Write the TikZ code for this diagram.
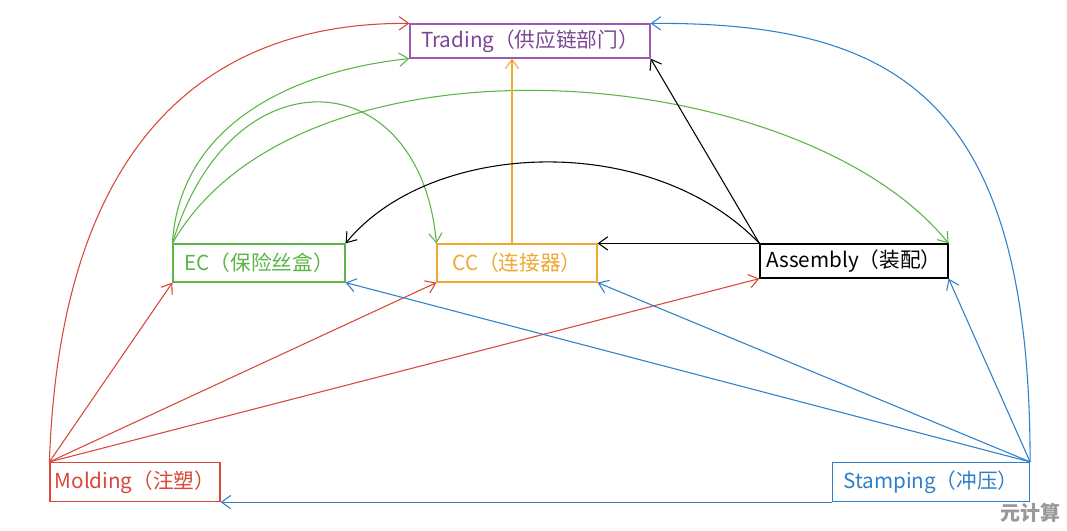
\documentclass[tikz,border=0pt]{standalone}
\usepackage{fontspec}
\setmainfont{Noto Sans CJK SC}
\usetikzlibrary{arrows.meta}
\definecolor{cr}{HTML}{D9473B}
\definecolor{cb}{HTML}{2F7FC9}
\definecolor{cg}{HTML}{5BB547}
\definecolor{co}{HTML}{F0A830}
\definecolor{cp}{HTML}{9B59B6}
\begin{document}
\begin{tikzpicture}[x=0.75pt,y=-0.75pt,
  box/.style={draw,line width=0.9pt,inner sep=0pt,font=\fontsize{15.5}{17}\selectfont},
  con/.style={line width=0.8pt,-{Straight Barb[length=7pt,width=10pt]}}]
\fill[white] (0,0) rectangle (1067,531);
\useasboundingbox (0,0) rectangle (1067,531);
\node[box,cp,text=cp!80!black,minimum width=240*0.75pt,minimum height=34*0.75pt] (tr) at (530,41) {Trading（供应链部门）};
\node[box,cg,text=cg,minimum width=172*0.75pt,minimum height=38*0.75pt] (ec) at (259,263) {EC（保险丝盒）};
\node[box,co,text=co,minimum width=160*0.75pt,minimum height=38*0.75pt] (cc) at (517,263) {CC（连接器）};
\node[box,black,minimum width=188*0.75pt,minimum height=34*0.75pt] (as) at (854,261) {Assembly（装配）};
\node[box,cr,text=cr,minimum width=170*0.75pt,minimum height=39*0.75pt] (mo) at (135,482) {Molding（注塑）};
\node[box,cb,text=cb,minimum width=197*0.75pt,minimum height=39*0.75pt] (st) at (931,482) {Stamping（冲压）};
\node[text=gray!80,font=\bfseries\fontsize{15}{16}\selectfont] (wm) at (1030,513) {元计算};
\coordinate (ccx) at (512,244);
% red
\draw[con,cr] (mo.north west) .. controls (60,150) and (200,22) .. (tr.north west);
\draw[con,cr] (mo.north west) -- (ec.south west);
\draw[con,cr] (mo.north west) -- (cc.south west);
\draw[con,cr] (mo.north west) -- (as.south west);
% blue
\draw[con,cb] (st.north east) .. controls (1030,100) and (900,22) .. (tr.north east);
\draw[con,cb] (st.north east) -- (as.south east);
\draw[con,cb] (st.north east) -- (cc.south east);
\draw[con,cb] (st.north east) -- (ec.south east);
\draw[con,cb] (st.south west) -- (mo.south east);
% green
\draw[con,cg] (ec.north west) .. controls (180,120) and (300,70) .. (tr.south west);
\draw[con,cg] (ec.north west) .. controls (230,50) and (420,60) .. (cc.north west);
\draw[con,cg] (ec.north west) .. controls (300,20) and (800,60) .. (as.north east);
% orange
\draw[con,co] (ccx) -- (tr.south -| ccx);
% black
\draw[con,black] (as.north west) -- (tr.south east);
\draw[con,black] (as.north west) -- (cc.east |- as.north west);
\draw[con,black] (as.north west) .. controls (650,130) and (430,140) .. (ec.north east);
\end{tikzpicture}
\end{document}
